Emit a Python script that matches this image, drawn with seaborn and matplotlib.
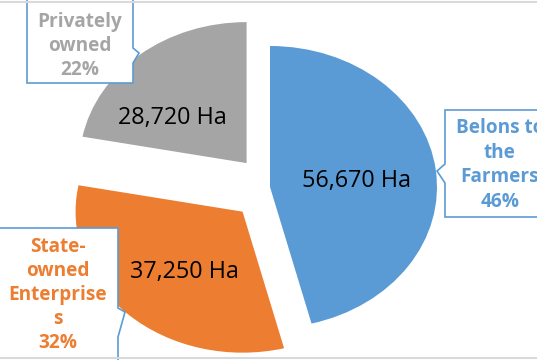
import matplotlib
matplotlib.use("Agg")
import matplotlib.pyplot as plt
from matplotlib.patches import Polygon
from matplotlib.lines import Line2D
import seaborn as sns

# ---- data ----
categories = ["Belons to the Farmers", "State-owned Enterprises", "Privately owned"]
shares = [46, 32, 22]                 # percent
hectares = [56670, 37250, 28720]      # Ha
box_lines = [
    ["Belons to", "the", "Farmers", "46%"],
    ["State-", "owned", "Enterprise", "s", "32%"],
    ["Privately", "owned", "22%"],
]
colors = ["#5b9bd5", "#ed7d31", "#a5a5a5"]

sns.set_theme(style="white")
plt.rcParams["font.family"] = ["Open Sans", "DejaVu Sans"]
palette = sns.color_palette(colors)

W, H = 537, 360
fig = plt.figure(figsize=(W / 100, H / 100), dpi=100)
fig.patch.set_facecolor("white")
ax = fig.add_axes([0, 0, 1, 1])

explode = [0, 0.24, 0.22]
ax.pie(shares, explode=explode, colors=palette, startangle=90,
       counterclock=False, radius=1, wedgeprops=dict(linewidth=0))
ax.set_aspect("auto")
cx, cy, rx, ry = 270, 187, 167, 141
ax.set_xlim(-cx / rx, (W - cx) / rx)
ax.set_ylim(-(H - cy) / ry, cy / ry)
ax.axis("off")


def fp(x, y):
    return (x / W, 1 - y / H)


tf = fig.transFigure

# inner hectare labels
inner_pos = [(357, 181), (184, 272), (172, 118)]
for v, (px, py) in zip(hectares, inner_pos):
    ax.text(*fp(px, py), f"{v:,} Ha", transform=tf, ha="center", va="center",
            fontsize=16.8, color="black", zorder=6)

# callout boxes (image pixel coords)
boxes = [
    # blue: notch on left
    [(445, 110), (560, 110), (560, 217), (445, 217), (445, 183), (437, 171), (445, 164)],
    # orange: notch on right
    [(-10, 228), (118, 228), (118, 308), (125, 312), (118, 337), (118, 380), (-10, 380)],
    # gray: notch on right
    [(27, -10), (133, -10), (133, 48), (139, 53), (133, 63), (133, 83), (27, 83)],
]
for pts in boxes:
    poly = Polygon([fp(x, y) for x, y in pts], closed=True, transform=tf,
                   facecolor="white", edgecolor="#5b9bd5", linewidth=1.2,
                   zorder=5, clip_on=False)
    ax.add_patch(poly)

text_cfg = [  # center x, first baseline, spacing
    (500, 133, 24.6),
    (58, 251.5, 24.1),
    (80, 27, 24.0),
]
for lines, col, (tx, b0, sp) in zip(box_lines, colors, text_cfg):
    for i, s in enumerate(lines):
        ax.text(*fp(tx, b0 + i * sp), s, transform=tf, ha="center",
                va="baseline", fontsize=13.7, fontweight="bold", color=col,
                zorder=7)

# frame lines at top and bottom
for yy in (2, 358):
    fig.add_artist(Line2D([0, 1], [1 - yy / H] * 2, transform=tf,
                          color="#d9d9d9", linewidth=1.5, zorder=8))

fig.savefig("out.png", dpi=100)
